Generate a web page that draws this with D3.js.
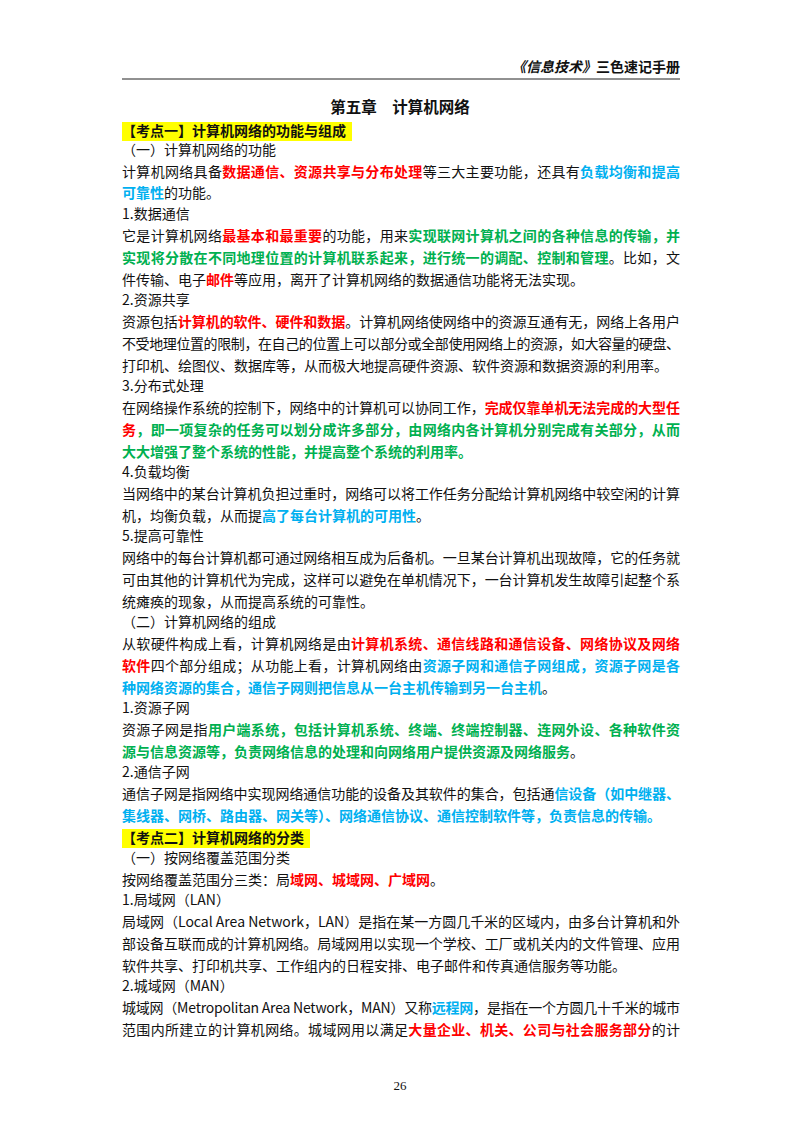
<!DOCTYPE html>
<html><head><meta charset="utf-8">
<script src="https://cdn.jsdelivr.net/npm/d3@7"></script>
<style>body{margin:0;background:#fff}</style>
</head><body><svg></svg>
<script>
// page text: each line is a list of [text, style]; j = justified full line
// styles: n normal, r red bold, g green bold, b blue bold, h heading
let header = [["《信息技术》", "italic"], ["三色速记手册", "normal"]]
let title = "第五章　计算机网络"
let pageNo = "26"

let lines = [
  {s: [["【考点一】计算机网络的功能与组成", "h"]]},
  {s: [["（一）计算机网络的功能", "n"]]},
  {j: 1, s: [["计算机网络具备", "n"], ["数据通信、资源共享与分布处理", "r"], ["等三大主要功能，还具有", "n"], ["负载均衡和提高", "b"]]},
  {s: [["可靠性", "b"], ["的功能。", "n"]]},
  {s: [["1.数据通信", "n"]]},
  {j: 1, s: [["它是计算机网络", "n"], ["最基本和最重要", "r"], ["的功能，用来", "n"], ["实现联网计算机之间的各种信息的传输，并", "g"]]},
  {j: 1, s: [["实现将分散在不同地理位置的计算机联系起来，进行统一的调配、控制和管理", "g"], ["。比如，文", "n"]]},
  {s: [["件传输、电子", "n"], ["邮件", "r"], ["等应用，离开了计算机网络的数据通信功能将无法实现。", "n"]]},
  {s: [["2.资源共享", "n"]]},
  {j: 1, s: [["资源包括", "n"], ["计算机的软件、硬件和数据", "r"], ["。计算机网络使网络中的资源互通有无，网络上各用户", "n"]]},
  {j: 1, s: [["不受地理位置的限制，在自己的位置上可以部分或全部使用网络上的资源，如大容量的硬盘、", "n"]]},
  {s: [["打印机、绘图仪、数据库等，从而极大地提高硬件资源、软件资源和数据资源的利用率。", "n"]]},
  {s: [["3.分布式处理", "n"]]},
  {j: 1, s: [["在网络操作系统的控制下，网络中的计算机可以协同工作，", "n"], ["完成仅靠单机无法完成的大型任", "r"]]},
  {j: 1, s: [["务", "r"], ["，即一项复杂的任务可以划分成许多部分，由网络内各计算机分别完成有关部分，从而", "g"]]},
  {s: [["大大增强了整个系统的性能，并提高整个系统的利用率。", "g"]]},
  {s: [["4.负载均衡", "n"]]},
  {j: 1, s: [["当网络中的某台计算机负担过重时，网络可以将工作任务分配给计算机网络中较空闲的计算", "n"]]},
  {s: [["机，均衡负载，从而提", "n"], ["高了每台计算机的可用性", "b"], ["。", "n"]]},
  {s: [["5.提高可靠性", "n"]]},
  {j: 1, s: [["网络中的每台计算机都可通过网络相互成为后备机。一旦某台计算机出现故障，它的任务就", "n"]]},
  {j: 1, s: [["可由其他的计算机代为完成，这样可以避免在单机情况下，一台计算机发生故障引起整个系", "n"]]},
  {s: [["统瘫痪的现象，从而提高系统的可靠性。", "n"]]},
  {s: [["（二）计算机网络的组成", "n"]]},
  {j: 1, s: [["从软硬件构成上看，计算机网络是由", "n"], ["计算机系统、通信线路和通信设备、网络协议及网络", "r"]]},
  {j: 1, s: [["软件", "r"], ["四个部分组成；从功能上看，计算机网络由", "n"], ["资源子网和通信子网组成，资源子网是各", "b"]]},
  {s: [["种网络资源的集合，通信子网则把信息从一台主机传输到另一台主机", "b"], ["。", "n"]]},
  {s: [["1.资源子网", "n"]]},
  {j: 1, s: [["资源子网是指", "n"], ["用户端系统，包括计算机系统、终端、终端控制器、连网外设、各种软件资", "g"]]},
  {s: [["源与信息资源等，负责网络信息的处理和向网络用户提供资源及网络服务", "g"], ["。", "n"]]},
  {s: [["2.通信子网", "n"]]},
  {j: 1, s: [["通信子网是指网络中实现网络通信功能的设备及其软件的集合，包括通", "n"], ["信设备（如中继器、", "b"]]},
  {s: [["集线器、网桥、路由器、网关等）、网络通信协议、通信控制软件等，负责信息的传输。", "b"]]},
  {s: [["【考点二】计算机网络的分类", "h"]]},
  {s: [["（一）按网络覆盖范围分类", "n"]]},
  {s: [["按网络覆盖范围分三类：局", "n"], ["域网、城域网、广域网", "r"], ["。", "n"]]},
  {s: [["1.局域网（LAN）", "n"]]},
  {j: 1, s: [["局域网（Local Area Network，LAN）是指在某一方圆几千米的区域内，由多台计算机和外", "n"]]},
  {j: 1, s: [["部设备互联而成的计算机网络。局域网用以实现一个学校、工厂或机关内的文件管理、应用", "n"]]},
  {s: [["软件共享、打印机共享、工作组内的日程安排、电子邮件和传真通信服务等功能。", "n"]]},
  {s: [["2.城域网（MAN）", "n"]]},
  {j: 1, s: [["城域网（Metropolitan Area Network，MAN）又称", "n"], ["远程网", "b"], ["，是指在一个方圆几十千米的城市", "n"]]},
  {j: 1, s: [["范围内所建立的计算机网络。城域网用以满足", "n"], ["大量企业、机关、公司与社会服务部分", "r"], ["的计", "n"]]}
]
let lineY = [131,150,172,193,214,236,258,280,300,322,344,366,386,408,430,452,472,494,516,536,558,580,602,622,644,666,688,708,730,752,772,794,816,838,858,880,900,922,944,966,986,1008,1030]

let colors = {n: "#111", r: "#ff0000", g: "#00b050", b: "#00b0f0", h: "#111"}
let width = 800, height = 1132
let left = 122, right = 680
let font = "'Noto Sans CJK SC', sans-serif"

let svg = d3.select('svg').attr('width', width).attr('height', height)

let yScale = d3.scaleLinear().domain([0, 1]).range([0, 1])

// header
svg.append('text').attr('x', right).attr('y', 72).attr('text-anchor', 'end')
  .attr('font-family', font).attr('font-size', 14).attr('font-weight', 'bold')
  .attr('fill', '#111')
  .selectAll('tspan').data(header).enter().append('tspan')
  .attr('font-style', d => d[1]).text(d => d[0])
svg.append('line').attr('x1', left).attr('x2', right).attr('y1', 79).attr('y2', 79)
  .attr('stroke', '#222').attr('stroke-width', 1)
svg.append('text').attr('x', 400).attr('y', 113).attr('text-anchor', 'middle')
  .attr('font-family', font).attr('font-size', 15.5).attr('font-weight', 'bold')
  .attr('fill', '#111').text(title)

let rows = svg.selectAll('g.row').data(lines).enter().append('g').attr('class', 'row')

rows.each(function (d, i) {
  let g = d3.select(this)
  let y = yScale(lineY[i]) + 5
  let t = g.append('text').attr('x', left).attr('y', y)
    .attr('font-family', font).attr('font-size', 14).attr('fill', '#111')
  t.selectAll('tspan').data(d.s).enter().append('tspan')
    .attr('fill', s => colors[s[1]])
    .attr('font-weight', s => s[1] === 'n' ? 'normal' : 'bold')
    .text(s => s[0])
  if (d.j) t.attr('textLength', right - left).attr('lengthAdjust', 'spacing')
  if (d.s[0][1] === 'h') {
    let w = t.node().getComputedTextLength()
    g.insert('rect', 'text').attr('x', left).attr('y', y - 14).attr('width', w + 6)
      .attr('height', 19).attr('fill', '#ffff00')
  }
})

svg.append('text').attr('x', 400).attr('y', 1090).attr('text-anchor', 'middle')
  .attr('font-family', "'Liberation Serif', serif").attr('font-size', 13).attr('fill', '#111').text(pageNo)
</script></body></html>
